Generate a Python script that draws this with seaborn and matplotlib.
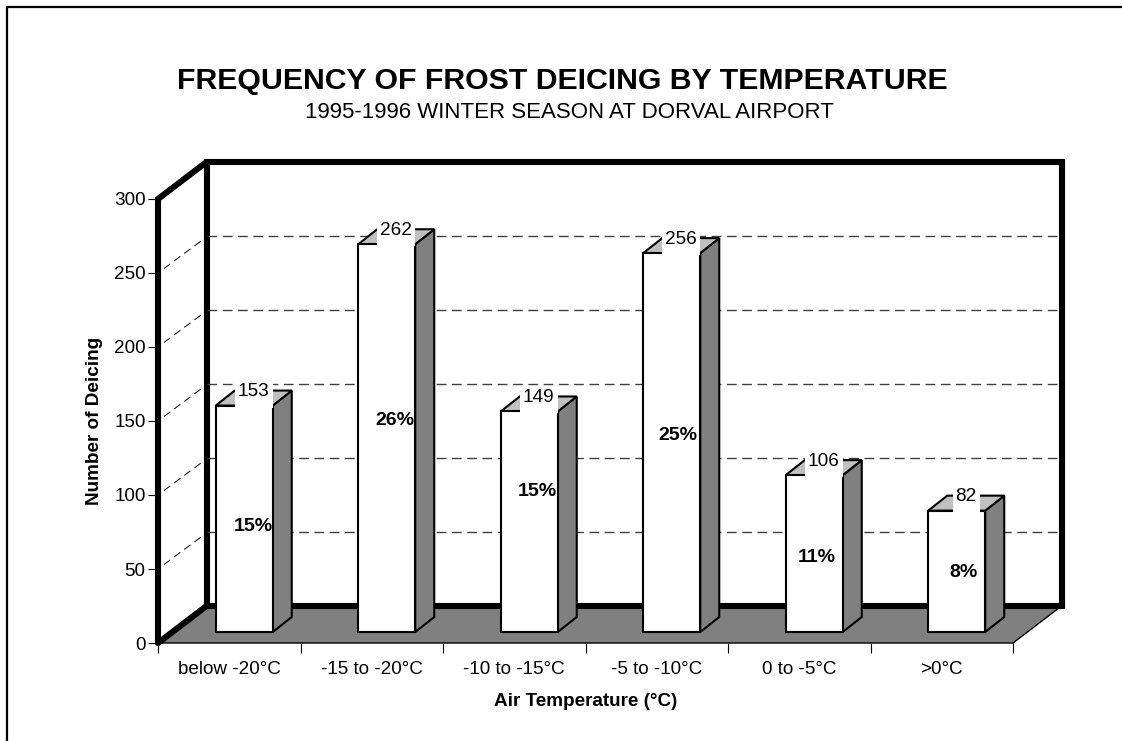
import matplotlib
matplotlib.use('Agg')
import matplotlib.pyplot as plt
import seaborn as sns
from matplotlib.patches import Polygon, Rectangle
from matplotlib.lines import Line2D
from matplotlib.transforms import Affine2D, IdentityTransform

categorias = ['below -20°C', '-15 to -20°C', '-10 to -15°C', '-5 to -10°C', '0 to -5°C', '>0°C']
deicing = [153, 262, 149, 256, 106, 82]
porcentajes = ['15%', '26%', '15%', '25%', '11%', '8%']
# the % labels were placed by hand in the original, not centred on the bars
pct_y = [71, 143, 95, 133, 50, 40]
pct_x = [0.063, 0.06, 0.055, 0.04, 0.015, 0.05]
y_ticks = [0, 50, 100, 150, 200, 250, 300]

W, H = 1122, 741
LEFT, RIGHT, BASE, TOP = 158, 1013, 643, 199
PX_X = (RIGHT - LEFT) / 6
PX_Y = (BASE - TOP) / 300

sns.set_theme(style='white')
plt.rcParams['font.family'] = ['Liberation Sans', 'DejaVu Sans']

fig = plt.figure(figsize=(W / 100, H / 100), dpi=100, facecolor='white')
ax = fig.add_axes([LEFT / W, 1 - BASE / H, (RIGHT - LEFT) / W, (BASE - TOP) / H])
ax.patch.set_visible(False)

sns.barplot(x=categorias, y=deicing, order=categorias, color='white', saturation=1,
            edgecolor='black', linewidth=1.5, width=0.4, ax=ax, zorder=5)
barras = list(ax.patches)
ax.set_xlim(-0.5, 5.5)
ax.set_ylim(0, 300)


def prof(dx, dy):
    # pseudo 3D: same data scale, shifted back by some pixels
    return ax.transData + Affine2D().translate(dx, dy)


FONDO = prof(48.5, 37)
BARRA = prof(15, 11)
GRIS = '#808080'
GRIS_CLARO = '#c0c0c0'
x0, x1 = ax.get_xlim()
fx = 48.5 / PX_X
fy = 37 / PX_Y

# floor
ax.add_patch(Polygon([(x0, 0), (x1, 0), (x1 + fx, fy), (x0 + fx, fy)], closed=True,
                     facecolor=GRIS, edgecolor='none', clip_on=False, zorder=1))

# back wall frame and left wall
ax.plot([x0, x0, x1, x1], [0, 300, 300, 0], color='black', lw=4.4, transform=FONDO,
        clip_on=False, zorder=2, solid_joinstyle='miter', solid_capstyle='butt')
ax.plot([x0, x1], [0, 0], color='black', lw=4.4, transform=FONDO, clip_on=False, zorder=2,
        solid_capstyle='projecting')
ax.plot([x0, x0, x0 + fx], [0, 300, 300 + fy], color='black', lw=4.4,
        clip_on=False, zorder=3, solid_joinstyle='miter')
ax.plot([x0, x0 + fx], [0, fy], color='black', lw=4.4, clip_on=False, zorder=3,
        solid_capstyle='butt')

# floor thin edges
ax.plot([x0, x1, x1 + fx], [0, 0, fy], color='black', lw=1, clip_on=False, zorder=3)

# gridlines on back wall plus the slanted ones on the left wall
for v in y_ticks[1:-1]:
    ax.plot([x0, x1], [v, v], color='#404040', lw=1.0, dashes=(7, 4), transform=FONDO,
            clip_on=False, zorder=2)
    ax.plot([x0 + 6 / PX_X, x0 + 43 / PX_X], [v + 4.5 / PX_Y, v + 32 / PX_Y], color='black', lw=0.7,
            dashes=(8, 5), clip_on=False, zorder=2)

# bars: move front faces forward, then add side and top
ddx = 19 / PX_X
ddy = 15 / PX_Y
renderer = fig.canvas.get_renderer()
for i, (patch, valor) in enumerate(zip(barras, deicing)):
    patch.set_transform(BARRA)
    patch.set_clip_on(False)
    a = i - 0.2
    b = i + 0.2
    ax.add_patch(Polygon([(b, 0), (b + ddx, ddy), (b + ddx, valor + ddy), (b, valor)], closed=True,
                         facecolor=GRIS, edgecolor='black', lw=1.5, transform=BARRA, clip_on=False, zorder=4))
    ax.add_patch(Polygon([(a, valor), (a + ddx, valor + ddy), (b + ddx, valor + ddy), (b, valor)], closed=True,
                         facecolor=GRIS_CLARO, edgecolor='black', lw=1.5, transform=BARRA, clip_on=False, zorder=4))
    t = ax.text(i + 9.5 / PX_X, valor + ddy - 0.7, str(valor), transform=BARRA, ha='center', va='center',
                fontsize=13.7, color='black', zorder=7)
    # white label box reaches down over the front edge of the top face
    caja = t.get_window_extent(renderer)
    y_front = BARRA.transform((i, valor))[1]
    ax.add_patch(Rectangle((caja.x0 - 3, y_front - 2), caja.width + 6, caja.y1 + 3 - (y_front - 2),
                           facecolor='white', edgecolor='none', transform=IdentityTransform(),
                           clip_on=False, zorder=6))
    ax.text(i + pct_x[i], pct_y[i], porcentajes[i], transform=BARRA, ha='center', va='center',
            fontsize=14, fontweight='bold', color='black', zorder=7)

# axes
sns.despine(ax=ax, left=True, bottom=True, top=True, right=True)
ax.set_yticks(y_ticks)
ax.set_xticks(range(6))
ax.set_xticks([x0 + k for k in range(7)], minor=True)
ax.tick_params(axis='x', which='major', length=0, pad=13, labelsize=13.6, colors='black')
ax.tick_params(axis='x', which='minor', length=7, width=0.8, color='black', bottom=True)
ax.tick_params(axis='y', length=7, width=0.8, color='black', left=True, labelsize=13.6, labelcolor='black', pad=2)
for lab in ax.get_yticklabels():
    lab.set_verticalalignment('center_baseline')
ax.set_xlabel('Air Temperature (°C)', fontsize=13.6, fontweight='bold', color='black')
ax.set_ylabel('Number of Deicing', fontsize=13.6, fontweight='bold', color='black')
ax.xaxis.set_label_coords(0.5, -(693 - BASE) / (BASE - TOP))
ax.yaxis.set_label_coords((103 - LEFT) / (RIGHT - LEFT), 0.5)

fig.text(562 / W, 1 - 81 / H, 'FREQUENCY OF FROST DEICING BY TEMPERATURE', ha='center', va='center',
         fontsize=21.75, fontweight='bold', color='black')
fig.text(569 / W, 1 - 112 / H, '1995-1996 WINTER SEASON AT DORVAL AIRPORT', ha='center', va='center',
         fontsize=16, color='black')

# outer border, only top and left show
fig.add_artist(Line2D([6.5 / W, 6.5 / W, 1], [0, 1 - 6.5 / H, 1 - 6.5 / H], color='black', lw=1.6,
                      transform=fig.transFigure))

fig.savefig('out.png', dpi=100)
